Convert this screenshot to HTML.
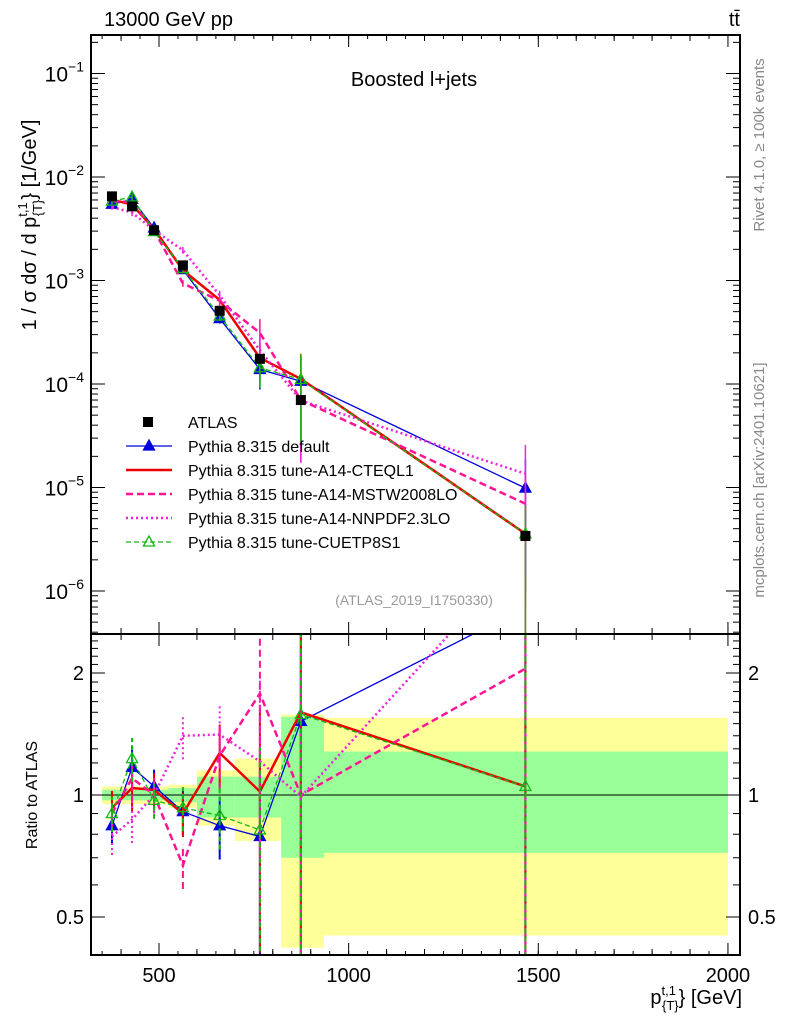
<!DOCTYPE html>
<html><head><meta charset="utf-8">
<style>
html,body{margin:0;background:#fff;width:786px;height:1024px;overflow:hidden;}
svg{display:block;font-family:"Liberation Sans",sans-serif;}
</style></head>
<body>
<svg id="chart" width="786" height="1024" viewBox="0 0 786 1024"></svg>
<script>
const categories=[376,429,487,563,660,766,874,1466];
const atlasValues=[6.5e-3,5.2e-3,3.06e-3,1.4e-3,5.1e-4,1.75e-4,7.0e-5,3.4e-6];
const ratioDefault=[0.84,1.17,1.05,0.91,0.84,0.79,1.52,2.9];
const ratioCTEQ=[0.93,1.04,1.03,0.90,1.27,1.02,1.60,1.05];
const ratioMSTW=[0.90,1.10,1.00,0.67,1.25,1.78,1.00,2.05];
const ratioNNPDF=[0.79,0.87,1.00,1.40,1.41,1.21,0.99,4.0];
const ratioCUET=[0.90,1.23,0.97,0.93,0.89,0.82,1.58,1.05];
const mcRelErr=[0.2,0.25,0.2,0.25,0.35,1.2,2.5,3];
const bandEdges=[350,400,450,525,600,700,822,935,2000];
const bandStatLo=[0.97,0.97,0.97,0.96,0.88,0.88,0.70,0.72];
const bandStatHi=[1.03,1.03,1.03,1.04,1.11,1.11,1.56,1.28];
const bandTotLo=[0.95,0.95,0.95,0.93,0.84,0.77,0.42,0.45];
const bandTotHi=[1.05,1.05,1.05,1.06,1.15,1.23,1.58,1.55];
const xTicks=[500,1000,1500,2000];
const yTickExp=[-1,-2,-3,-4,-5,-6];
const rTicks=[0.5,1,2];

const NS="http://www.w3.org/2000/svg";
const svg=document.getElementById('chart');
const L=91,R=740,T=35,D=634,B=955;
const X=v=>159+(v-500)*0.3793;
const Y=v=>177+(-2-Math.log10(v))*103.5;
const YR=r=>795-Math.log2(r)*122;
function el(tag,attrs,parent){const e=document.createElementNS(NS,tag);for(const k in attrs)e.setAttribute(k,attrs[k]);(parent||svg).appendChild(e);return e;}
function txt(s,attrs,parent){const e=el('text',attrs,parent);e.textContent=s;return e;}

const defs=el('defs',{});
const c1=el('clipPath',{id:'cm'},defs);el('rect',{x:L,y:T,width:R-L,height:D-T},c1);
const c2=el('clipPath',{id:'cr'},defs);el('rect',{x:L,y:D,width:R-L,height:B-D},c2);
const gm=el('g',{'clip-path':'url(#cm)'});


const gr=el('g',{'clip-path':'url(#cr)'});



for(let i=0;i<bandTotLo.length;i++){
  const x0=X(bandEdges[i]),x1=X(bandEdges[i+1]);
  const a=el('rect',{x:x0,y:YR(bandTotHi[i]),width:x1-x0,height:YR(bandTotLo[i])-YR(bandTotHi[i]),fill:'#ffff99'},gr);
  
  
  const b=el('rect',{x:x0,y:YR(bandStatHi[i]),width:x1-x0,height:YR(bandStatLo[i])-YR(bandStatHi[i]),fill:'#99ff99'},gr);
  
  
}
el('line',{x1:L,x2:R,y1:YR(1),y2:YR(1),stroke:'#000','stroke-width':1},gr);

const series=[
 {name:'default',r:ratioDefault,color:'#0000dd',w:1.3,dash:'',marker:'tri-fill'},
 {name:'cteql1',r:ratioCTEQ,color:'#ee0000',w:2.5,dash:'',marker:'none'},
 {name:'mstw2008lo',r:ratioMSTW,color:'#ff1493',w:2.5,dash:'7,4',marker:'none'},
 {name:'nnpdf23lo',r:ratioNNPDF,color:'#ee22dd',w:2.5,dash:'2,3',marker:'none'},
 {name:'cuetp8s1',r:ratioCUET,color:'#11bb11',w:1.3,dash:'5,3',marker:'tri-open'}
];
function marker(kind,x,y,color,parent,nm){
  if(kind==='none')return;
  const p=el('polygon',{points:`${x},${y-6} ${x-5.5},${y+4} ${x+5.5},${y+4}`,fill:kind==='tri-fill'?color:'none',stroke:color,'stroke-width':1.3},parent);
  
  
}
series.forEach(s=>{
  const main=s.r.map((r,i)=>atlasValues[i]*r);
  const pts=categories.map((c,i)=>X(c)+','+Y(main[i])).join(' ');
  const pl=el('polyline',{points:pts,fill:'none',stroke:s.color,'stroke-width':s.w,'stroke-dasharray':s.dash},gm);
  
  
  const rp=categories.map((c,i)=>X(c)+','+YR(s.r[i])).join(' ');
  const pr=el('polyline',{points:rp,fill:'none',stroke:s.color,'stroke-width':s.w,'stroke-dasharray':s.dash},gr);
  
  
  categories.forEach((c,i)=>{
    const e=mcRelErr[i]*0.5;
    const lo=Math.max(s.r[i]*(1-e),0.01),hi=s.r[i]*(1+e);
    const eb=el('line',{x1:X(c),x2:X(c),y1:YR(lo),y2:YR(hi),stroke:s.color,'stroke-width':2,'stroke-dasharray':s.dash},gr);
    
    
    const ebm=el('line',{x1:X(c),x2:X(c),y1:Y(main[i]*(1+e*0.6)),y2:Y(Math.max(main[i]*(1-e*0.6),1e-8)),stroke:s.color,'stroke-width':1.5},gm);
    
    
    marker(s.marker,X(c),Y(main[i]),s.color,gm,'point-'+s.name);
    marker(s.marker,X(c),YR(s.r[i]),s.color,gr,'ratio-point-'+s.name);
  });
});
categories.forEach((c,i)=>{
  const r=el('rect',{x:X(c)-5,y:Y(atlasValues[i])-5,width:10,height:10,fill:'#000'},gm);
  
  
});
el('rect',{x:L,y:T,width:R-L,height:D-T,fill:'none',stroke:'#000','stroke-width':2});
el('rect',{x:L,y:D,width:R-L,height:B-D,fill:'none',stroke:'#000','stroke-width':2});

for(let v=400;v<=2000;v+=100){
  const major=v%500===0;
  [[T,1],[D,1],[D,-1],[B,-1]].forEach(([y0,dir])=>{el('line',{x1:X(v),x2:X(v),y1:y0,y2:y0+dir*(major?12:6),stroke:'#000','stroke-width':1});});
}
for(let v=350;v<=2000;v+=50){[[T,1],[B,-1]].forEach(([y0,dir])=>{el('line',{x1:X(v),x2:X(v),y1:y0,y2:y0+dir*4,stroke:'#000','stroke-width':1});});}
xTicks.forEach(v=>{const t=txt(v,{x:X(v),y:982,'font-size':20,'text-anchor':'middle'});

});

for(let e=-7;e<=-1;e++){
  for(let m=1;m<10;m++){
    const v=m*Math.pow(10,e);const y=Y(v);
    if(y<T||y>D)continue;
    const len=m===1?14:7;
    el('line',{x1:L,x2:L+len,y1:y,y2:y,stroke:'#000','stroke-width':1});
    el('line',{x1:R,x2:R-len,y1:y,y2:y,stroke:'#000','stroke-width':1});
  }
}
yTickExp.forEach(e=>{
  const t=el('text',{x:84,y:Y(Math.pow(10,e))+8,'font-size':21,'text-anchor':'end'});
  
  
  t.innerHTML=`10<tspan dy="-10" font-size="14">−${-e}</tspan>`;
});
for(let r=0.4;r<=2.5;r+=0.1){
  const y=YR(r);if(y<D||y>B)continue;
  const maj=[0.5,1,2].some(v=>Math.abs(v-r)<1e-6);
  el('line',{x1:L,x2:L+(maj?14:7),y1:y,y2:y,stroke:'#000'});
  el('line',{x1:R,x2:R-(maj?14:7),y1:y,y2:y,stroke:'#000'});
}
rTicks.forEach(r=>{
  const a=txt(r,{x:84,y:YR(r)+7,'font-size':20,'text-anchor':'end'});
  
  
  const b=txt(r,{x:748,y:YR(r)+7,'font-size':20,'text-anchor':'start'});
  
  
});

const leg=[
 {t:'ATLAS',k:'sq'},
 {t:'Pythia 8.315 default',k:0},
 {t:'Pythia 8.315 tune-A14-CTEQL1',k:1},
 {t:'Pythia 8.315 tune-A14-MSTW2008LO',k:2},
 {t:'Pythia 8.315 tune-A14-NNPDF2.3LO',k:3},
 {t:'Pythia 8.315 tune-CUETP8S1',k:4}
];
leg.forEach((l,i)=>{
  const y=422+i*24;
  const g=el('g',{});
  
  
  if(l.k==='sq'){el('rect',{x:143,y:y-5,width:10,height:10,fill:'#000'},g);}
  else{const s=series[l.k];
    el('line',{x1:126,x2:172,y1:y,y2:y,stroke:s.color,'stroke-width':s.w,'stroke-dasharray':s.dash},g);
    marker(s.marker,149,y,s.color,g,'legend-marker');}
  txt(l.t,{x:188,y:y+6,'font-size':16},g);
});

const texts=[
 ['13000 GeV pp',{x:104,y:26,'font-size':20},'energy-label'],
 ['t\u0074\u0304',{x:740,y:26,'font-size':20,'text-anchor':'end'},'process-label'],
 ['Boosted l+jets',{x:414,y:86,'font-size':20,'text-anchor':'middle'},'plot-title'],
 ['(ATLAS_2019_I1750330)',{x:414,y:605,'font-size':14,'text-anchor':'middle',fill:'#999'},'analysis-id'],
 ['Ratio to ATLAS',{x:0,y:0,'font-size':16,transform:'translate(37,795) rotate(-90)','text-anchor':'middle'},'ratio-y-axis-title'],
 ['Rivet 4.1.0, ≥ 100k events',{x:0,y:0,'font-size':15,fill:'#888',transform:'translate(764,145) rotate(-90)','text-anchor':'middle'},'rivet-label'],
 ['mcplots.cern.ch [arXiv:2401.10621]',{x:0,y:0,'font-size':15,fill:'#888',transform:'translate(764,480) rotate(-90)','text-anchor':'middle'},'mcplots-label']
];
texts.forEach(([s,a,n])=>{const t=txt(s,a);});
const yt=el('text',{x:0,y:0,'font-size':20,transform:'translate(36,225) rotate(-90)','text-anchor':'middle'});


yt.innerHTML='1 / σ dσ / d p<tspan dy="-9" font-size="13">t,1</tspan><tspan dy="15" dx="-14" font-size="13">{T}</tspan><tspan dy="-6">} [1/GeV]</tspan>';
const xt=el('text',{x:742,y:1004,'font-size':20,'text-anchor':'end'});


xt.innerHTML='p<tspan dy="-9" font-size="13">t,1</tspan><tspan dy="15" dx="-14" font-size="13">{T}</tspan><tspan dy="-6">} [GeV]</tspan>';
</script>
</body></html>
